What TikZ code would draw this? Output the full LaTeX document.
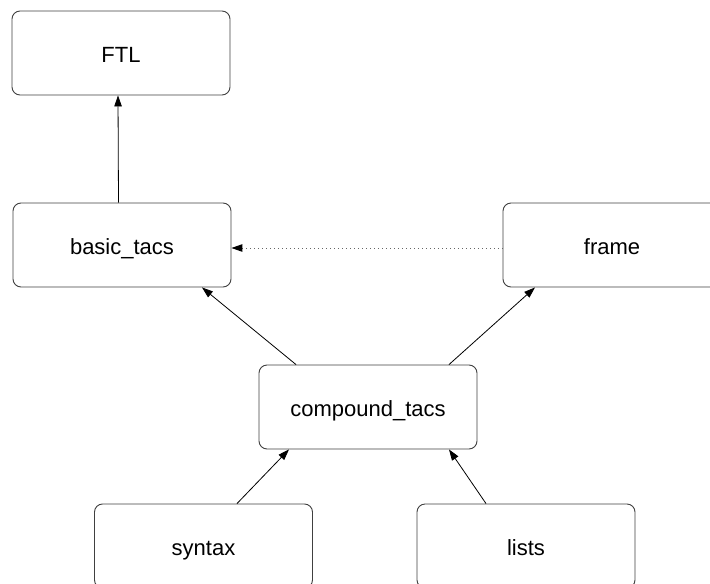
\documentclass[tikz,border=0pt]{standalone}
\usepackage{fontspec}
\setmainfont{Liberation Sans}
\usetikzlibrary{arrows.meta}
\tikzset{
  modbox/.style={draw=black!75, line width=0.9pt, rounded corners=8pt, minimum width=218pt, minimum height=84pt, inner sep=0pt, text height=19pt, text depth=0pt, font=\fontsize{22}{26}\selectfont, fill=white},
  dep/.style={draw=black, line width=0.8pt, -{Triangle[length=11pt,width=7.5pt]}},
  weakdep/.style={draw=black!60, line width=1pt, dash pattern=on 1pt off 3pt, -{Triangle[length=11pt,width=7.5pt,color=black]}}
}
\begin{document}
\begin{tikzpicture}[x=1pt,y=-1pt]
\useasboundingbox (0,0) rectangle (710,584);
\clip (0,0) rectangle (710,584);
\node[modbox] (ftl) at (121,53) {FTL};
\node[modbox] (basic) at (122,245) {basic\_tacs};
\node[modbox] (frame) at (612,245) {frame};
\node[modbox] (compound) at (368,407) {compound\_tacs};
\node[modbox] (syntax) at (203.5,546) {syntax};
\node[modbox] (lists) at (526,546) {lists};
\draw[dep] ([xshift=-3.5pt]basic.north) -- ([xshift=-3pt]ftl.south);
\draw[dep] ([xshift=-72pt]compound.north) -- ([xshift=80pt]basic.south);
\draw[dep] ([xshift=81pt]compound.north) -- ([xshift=-77pt]frame.south);
\draw[dep] ([xshift=33.5pt]syntax.north) -- ([xshift=-79pt]compound.south);
\draw[dep] ([xshift=-40pt]lists.north) -- ([xshift=81pt]compound.south);
\draw[weakdep] ([yshift=-3pt]frame.west) -- ([yshift=-3pt]basic.east);
\end{tikzpicture}
\end{document}
